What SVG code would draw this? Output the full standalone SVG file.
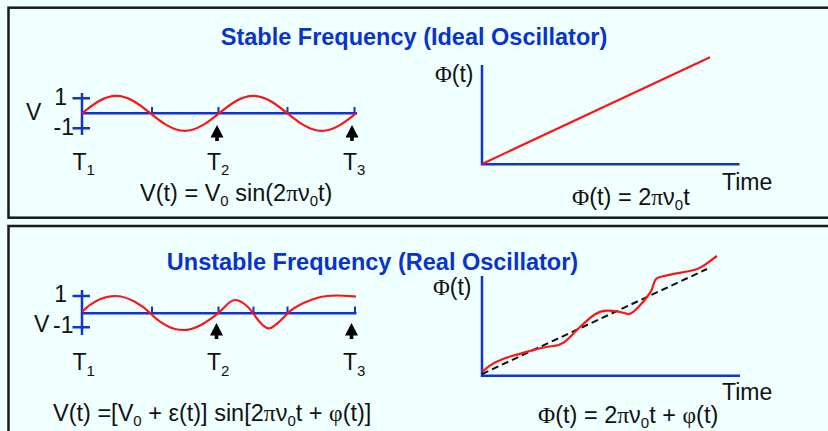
<svg xmlns="http://www.w3.org/2000/svg" width="828" height="431" viewBox="0 0 828 431">
<style>
.box{fill:#f0ffff;stroke:#1a1a1a;stroke-width:2.5}
.ttl{font-family:"Liberation Sans",Arial,sans-serif;font-weight:bold;font-size:23.5px;fill:#0833cc;text-anchor:middle}
.lbl{font-family:"Liberation Sans",Arial,sans-serif;font-size:23px;fill:#111}
.fml{font-family:"Liberation Sans",Arial,sans-serif;font-size:23.5px;fill:#111}
.sym{font-family:"Liberation Serif","Times New Roman",serif}
.sub{font-size:15px}
.axis{fill:none;stroke:#1034d0;stroke-width:2.5}
.tick{fill:none;stroke:#1034d0;stroke-width:2}
.sig{fill:none;stroke:#ff1414;stroke-width:2.2;stroke-linejoin:round}
.ref{fill:none;stroke:#111;stroke-width:2;stroke-dasharray:7,4}
.arr{fill:#000;stroke:none}
</style>
<rect width="828" height="431" fill="#f0ffff"/>

<g id="box-stable">
<rect class="box" x="8.5" y="7.7" width="830" height="210"/>
<text class="ttl" x="414" y="45">Stable Frequency (Ideal Oscillator)</text>
</g>

<g id="wave-stable">
<path class="axis" d="M82,93 V135 M82,113.3 H357"/>
<path class="axis" d="M72.5,98.3 H90 M72.5,128.3 H90"/>
<path class="tick" d="M152,107 V113 M218.5,107 V113 M287.5,107 V113 M354.5,107 V113"/>
<path class="sig" d="M82,113.3 C93.17,104.33 103.85,95.8 116.25,95.8 S139.33,104.33 150.5,113.3 S172.35,130.8 184.75,130.8 S207.83,122.27 219,113.3 S240.85,95.8 253.25,95.8 S276.33,104.33 287.5,113.3 S309.35,130.8 321.75,130.8 S344.83,122.27 356,113.3"/>
<text class="lbl" x="67" y="105" text-anchor="end">1</text>
<text class="lbl" x="26" y="119.5">V</text>
<text class="lbl" x="74" y="135" text-anchor="end">-1</text>
<text class="lbl" x="72.5" y="170">T<tspan class="sub" dy="5">1</tspan></text>
<text class="lbl" x="207" y="170">T<tspan class="sub" dy="5">2</tspan></text>
<text class="lbl" x="343" y="170">T<tspan class="sub" dy="5">3</tspan></text>
<text class="fml" x="140" y="201">V(t) = V<tspan class="sub" dy="5">0</tspan><tspan dy="-5"> sin(2</tspan><tspan class="sym">π</tspan>ν<tspan class="sub" dy="5">0</tspan><tspan dy="-5">t)</tspan></text>
</g>

<g id="phase-stable">
<path class="axis" d="M482,65 V164.3 H739.5"/>
<path class="sig" d="M482,164 L710,57.3"/>
<text class="lbl" x="435" y="82"><tspan class="sym">Φ</tspan>(t)</text>
<text class="lbl" x="722" y="190" font-size="24.5">Time</text>
<text class="fml" x="572" y="205"><tspan class="sym">Φ</tspan>(t) = 2<tspan class="sym">π</tspan>ν<tspan class="sub" dy="5">0</tspan><tspan dy="-5">t</tspan></text>
</g>

<g id="box-unstable">
<rect class="box" x="8.5" y="226" width="830" height="220"/>
<text class="ttl" x="372.5" y="270">Unstable Frequency (Real Oscillator)</text>
</g>

<g id="wave-unstable">
<path class="axis" d="M82,290 V335 M82,313.3 H356.5"/>
<path class="axis" d="M72.5,296 H90 M72.5,327.3 H90"/>
<path class="tick" d="M152,306.5 V313 M218.5,306.5 V313 M253.5,306.5 V313 M287.5,306.5 V313 M355,306.5 V313"/>
<path class="sig" d="M82,311.7 C92,302 102,296 115,296 S142,305 150,313 S170,330 183,330 S208,321 216.7,314.3 S229,300 235,300 S249,307 253,313 S264,328.3 269,328.3 S282,319 288,313 S312,297.5 327,296 S350,296.5 356,296.5"/>
<text class="lbl" x="67" y="302" text-anchor="end">1</text>
<text class="lbl" x="34" y="332">V</text>
<text class="lbl" x="73.5" y="333" text-anchor="end">-1</text>
<text class="lbl" x="72.5" y="370">T<tspan class="sub" dy="6">1</tspan></text>
<text class="lbl" x="207" y="370">T<tspan class="sub" dy="6">2</tspan></text>
<text class="lbl" x="343" y="370">T<tspan class="sub" dy="6">3</tspan></text>
<text class="fml" x="53" y="421">V(t) =[V<tspan class="sub" dy="5">0</tspan><tspan dy="-5"> + ε(t)] sin[2</tspan><tspan class="sym">π</tspan>ν<tspan class="sub" dy="5">0</tspan><tspan dy="-5">t + </tspan><tspan class="sym">φ</tspan>(t)]</text>
</g>

<g id="phase-unstable">
<path class="axis" d="M482,276 V375.7 H740"/>
<path class="ref" d="M482,374 L707,269"/>
<path class="sig" d="M482,372 C490,364 500,359 512,356 S540,347 553,346 S570,336 580,327 S596,311 607,310.7 S623,313 628,314 S645,300 650,293 S652,279 660,277 S685,272 694,270 S708,262 717,256"/>
<text class="lbl" x="433" y="295"><tspan class="sym">Φ</tspan>(t)</text>
<text class="lbl" x="722" y="400" font-size="24.5">Time</text>
<text class="fml" x="538" y="423"><tspan class="sym">Φ</tspan>(t) = 2<tspan class="sym">π</tspan>ν<tspan class="sub" dy="5">0</tspan><tspan dy="-5">t + </tspan><tspan class="sym">φ</tspan>(t)</text>
</g>

<g id="connectors">
<path class="arr" d="M217,125 L223.5,137.5 L218.8,137.5 L218.8,141 L215.2,141 L215.2,137.5 L210.5,137.5 Z"/>
<path class="arr" d="M352,125 L358.5,137.5 L353.8,137.5 L353.8,141 L350.2,141 L350.2,137.5 L345.5,137.5 Z"/>
<path class="arr" d="M216.5,323 L223,335.5 L218.3,335.5 L218.3,339 L214.7,339 L214.7,335.5 L210,335.5 Z"/>
<path class="arr" d="M351.5,323 L358,335.5 L353.3,335.5 L353.3,339 L349.7,339 L349.7,335.5 L345,335.5 Z"/>
</g>
</svg>
